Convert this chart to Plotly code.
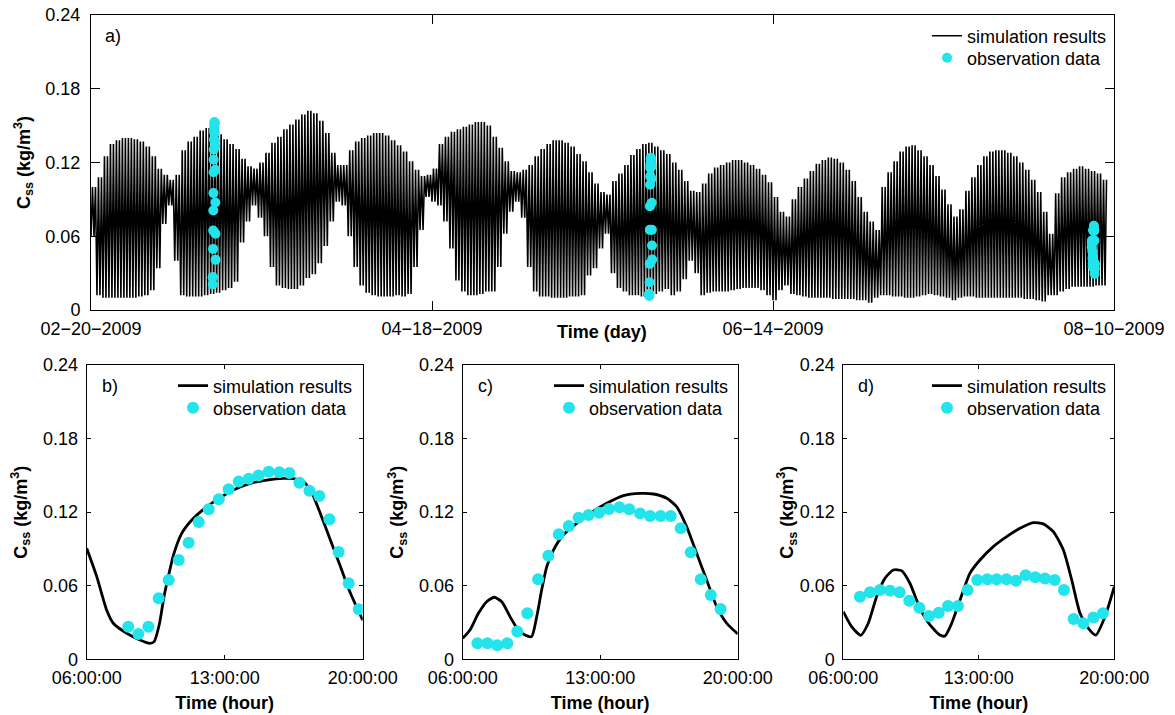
import pandas as pd
import plotly.graph_objects as go

# ---------------- data ----------------
start_date = "2009-02-20"
end_date = "2009-08-10"
a_tick_dates = ["2009-02-20", "2009-04-18", "2009-06-14", "2009-08-10"]
a_tick_text = ["02\u221220\u22122009", "04\u221218\u22122009", "06\u221214\u22122009", "08\u221210\u22122009"]

# panel a: daily upper / lower envelope of the simulated tidal concentration (kg/m3)
sim_a_upper = [
    0.100, 0.108, 0.125, 0.135, 0.138, 0.140, 0.140, 0.139, 0.137, 0.133,
    0.125, 0.115, 0.110, 0.106, 0.110, 0.130, 0.137, 0.141, 0.146, 0.148,
    0.146, 0.143, 0.139, 0.135, 0.131, 0.123, 0.117, 0.115, 0.120, 0.128,
    0.136, 0.141, 0.147, 0.151, 0.155, 0.159, 0.162, 0.160, 0.154, 0.144,
    0.128, 0.118, 0.118, 0.130, 0.137, 0.140, 0.142, 0.144, 0.144, 0.142,
    0.138, 0.134, 0.129, 0.121, 0.114, 0.109, 0.110, 0.115, 0.135, 0.141,
    0.145, 0.147, 0.149, 0.151, 0.153, 0.153, 0.150, 0.141, 0.132, 0.121,
    0.113, 0.112, 0.114, 0.118, 0.125, 0.131, 0.135, 0.138, 0.138, 0.136,
    0.133, 0.127, 0.121, 0.112, 0.103, 0.096, 0.094, 0.105, 0.111, 0.118,
    0.126, 0.131, 0.135, 0.136, 0.133, 0.130, 0.127, 0.120, 0.114, 0.105,
    0.097, 0.096, 0.103, 0.111, 0.116, 0.118, 0.120, 0.122, 0.122, 0.120,
    0.118, 0.115, 0.110, 0.104, 0.092, 0.080, 0.076, 0.090, 0.100, 0.107,
    0.113, 0.119, 0.122, 0.124, 0.123, 0.120, 0.114, 0.105, 0.092, 0.080,
    0.072, 0.065, 0.100, 0.112, 0.121, 0.129, 0.133, 0.134, 0.130, 0.125,
    0.118, 0.109, 0.098, 0.086, 0.076, 0.082, 0.097, 0.108, 0.118, 0.125,
    0.129, 0.130, 0.130, 0.128, 0.125, 0.120, 0.114, 0.106, 0.096, 0.080,
    0.062, 0.095, 0.108, 0.112, 0.115, 0.117, 0.115, 0.113, 0.111, 0.106,
]
sim_a_lower = [
    0.060, 0.012, 0.010, 0.010, 0.010, 0.010, 0.010, 0.010, 0.011, 0.012,
    0.016, 0.034, 0.070, 0.085, 0.040, 0.012, 0.011, 0.011, 0.011, 0.012,
    0.013, 0.014, 0.016, 0.018, 0.023, 0.055, 0.072, 0.085, 0.075, 0.060,
    0.035, 0.020, 0.018, 0.017, 0.017, 0.020, 0.026, 0.029, 0.038, 0.052,
    0.072, 0.088, 0.085, 0.060, 0.035, 0.020, 0.014, 0.012, 0.011, 0.011,
    0.011, 0.012, 0.011, 0.013, 0.035, 0.065, 0.092, 0.088, 0.085, 0.072,
    0.050, 0.024, 0.015, 0.012, 0.012, 0.013, 0.015, 0.015, 0.035, 0.062,
    0.080, 0.088, 0.075, 0.035, 0.015, 0.011, 0.011, 0.010, 0.010, 0.010,
    0.011, 0.011, 0.012, 0.028, 0.034, 0.050, 0.062, 0.030, 0.018, 0.015,
    0.012, 0.012, 0.011, 0.012, 0.013, 0.015, 0.017, 0.012, 0.015, 0.025,
    0.040, 0.030, 0.012, 0.014, 0.015, 0.015, 0.015, 0.016, 0.017, 0.018,
    0.018, 0.018, 0.016, 0.012, 0.008, 0.016, 0.020, 0.013, 0.012, 0.011,
    0.010, 0.010, 0.010, 0.010, 0.009, 0.009, 0.009, 0.009, 0.008, 0.008,
    0.006, 0.010, 0.012, 0.012, 0.011, 0.011, 0.010, 0.010, 0.011, 0.012,
    0.013, 0.012, 0.011, 0.010, 0.008, 0.010, 0.011, 0.011, 0.010, 0.010,
    0.010, 0.010, 0.010, 0.010, 0.010, 0.010, 0.009, 0.009, 0.008, 0.007,
    0.012, 0.012, 0.015, 0.017, 0.019, 0.019, 0.019, 0.019, 0.020, 0.020,
]

# panels b, c, d: survey days and hourly series
date_b = "2009-03-12"
date_c = "2009-05-24"
date_d = "2009-08-06"

sim_b_hour = [6.0, 6.51, 7.01, 7.35, 8.03, 8.7, 9.21, 9.42, 9.69, 9.92, 10.14, 10.4, 10.82, 11.33,
              11.92, 12.6, 13.44, 14.29, 15.13, 15.98, 16.49, 17.0, 17.43, 17.85, 18.36, 18.87, 19.38, 20.0]
sim_b_val = [0.0905, 0.0674, 0.0402, 0.0294, 0.0212, 0.0158, 0.013, 0.0144, 0.029, 0.0511, 0.0674, 0.085,
             0.1027, 0.1136, 0.1223, 0.13, 0.138, 0.1435, 0.1462, 0.1476, 0.1473, 0.1449, 0.1354, 0.119,
             0.0973, 0.0756, 0.0538, 0.032]
obs_b_hour = [8.11, 8.62, 9.13, 9.65, 10.16, 10.67, 11.17, 11.68, 12.19, 12.70, 13.20, 13.71, 14.22, 14.72,
              15.23, 15.77, 16.28, 16.79, 17.30, 17.80, 18.31, 18.78, 19.29, 19.80]
obs_b_val = [0.0266, 0.0207, 0.0266, 0.0497, 0.0647, 0.081, 0.0951, 0.112, 0.1223, 0.1305, 0.1386, 0.1449,
             0.1473, 0.1498, 0.153, 0.1525, 0.152, 0.144, 0.1375, 0.1332, 0.1142, 0.0875, 0.062, 0.0408]

sim_c_hour = [6.0, 6.37, 6.8, 7.22, 7.6, 7.99, 8.41, 8.83, 9.17, 9.51, 9.77, 10.02, 10.28, 10.62, 11.12, 11.8,
              12.48, 13.33, 14.18, 15.03, 15.71, 16.39, 16.89, 17.4, 17.91, 18.42, 18.93, 19.44, 20.0]
sim_c_val = [0.0171, 0.0239, 0.0375, 0.047, 0.0506, 0.047, 0.0348, 0.0239, 0.0198, 0.0185, 0.0348, 0.0565,
             0.0756, 0.0891, 0.1014, 0.1109, 0.119, 0.1272, 0.1335, 0.1353, 0.1348, 0.1313, 0.1245, 0.1082,
             0.0864, 0.0647, 0.0429, 0.0294, 0.0207]
obs_c_hour = [6.75, 7.26, 7.76, 8.27, 8.78, 9.29, 9.84, 10.36, 10.89, 11.40, 11.90, 12.41, 12.94, 13.45,
              13.98, 14.48, 15.03, 15.54, 16.08, 16.59, 17.10, 17.61, 18.12, 18.63, 19.13]
obs_c_val = [0.013, 0.013, 0.0114, 0.013, 0.0226, 0.0375, 0.0652, 0.0845, 0.1019, 0.1087, 0.1155, 0.1177,
             0.1196, 0.1226, 0.1239, 0.1223, 0.119, 0.1169, 0.1169, 0.1169, 0.1068, 0.0872, 0.0652, 0.0525,
             0.041]

sim_d_hour = [6.0, 6.43, 6.9, 7.29, 7.72, 8.15, 8.58, 9.01, 9.44, 9.96, 10.48, 10.99, 11.25, 11.6, 12.03,
              12.54, 13.06, 13.75, 14.44, 15.13, 15.82, 16.33, 16.85, 17.37, 17.8, 18.23, 18.66, 19.05,
              19.52, 20.0]
sim_d_val = [0.0389, 0.0266, 0.0196, 0.0294, 0.0511, 0.066, 0.0728, 0.0723, 0.062, 0.0416, 0.028, 0.0198,
             0.019, 0.0294, 0.0484, 0.0701, 0.081, 0.0919, 0.1, 0.1068, 0.1114, 0.1104, 0.1041, 0.0891,
             0.0647, 0.0375, 0.0253, 0.0198, 0.0348, 0.0592]
obs_d_hour = [6.86, 7.38, 7.89, 8.41, 8.91, 9.41, 9.93, 10.43, 10.93, 11.41, 11.92, 12.42, 12.92, 13.44,
              13.92, 14.42, 14.92, 15.42, 15.92, 16.42, 16.92, 17.40, 17.90, 18.40, 18.92, 19.41]
obs_d_val = [0.0511, 0.0546, 0.0565, 0.056, 0.0546, 0.0478, 0.0421, 0.0353, 0.038, 0.0435, 0.0435, 0.0565,
             0.0647, 0.0652, 0.0652, 0.0652, 0.0641, 0.0685, 0.0669, 0.0658, 0.0647, 0.0565, 0.0329, 0.0294,
             0.034, 0.0375]

y_ticks = [0, 0.06, 0.12, 0.18, 0.24]
y_tick_text = ["0", "0.06", "0.12", "0.18", "0.24"]
hour_ticks = [6, 13, 20]
hour_tick_text = ["06:00:00", "13:00:00", "20:00:00"]

# ---------------- helpers ----------------
def stamp(day, hours):
    base = pd.Timestamp(day)
    return [base + pd.Timedelta(hours=h) for h in hours]

# panel a series: two tidal cycles per day between the daily low and high envelope
t0 = pd.Timestamp(start_date)
sim_a_t, sim_a_v = [], []
for d, (hi, lo) in enumerate(zip(sim_a_upper, sim_a_lower)):
    for frac, v in ((0.0, lo), (0.25, hi), (0.5, lo), (0.75, hi)):
        sim_a_t.append(t0 + pd.Timedelta(days=d + frac))
        sim_a_v.append(v)

obs_a_t = stamp(date_b, obs_b_hour) + stamp(date_c, obs_c_hour) + stamp(date_d, obs_d_hour)
obs_a_v = obs_b_val + obs_c_val + obs_d_val

# the page body adds an 8 px margin, so the figure is drawn 8 px in from the window corner
OFF = 8
W, H = 1175 - OFF, 715 - OFF
FONT = "Liberation Sans, Arial, Helvetica, sans-serif"
CYAN = "#22E4EA"

def px_x(p):
    return (p - OFF) / W

def px_y(p):
    return 1 - (p - OFF) / H

fig = go.Figure()

# panel a
fig.add_trace(go.Scatter(x=sim_a_t, y=sim_a_v, mode="lines", line=dict(color="black", width=1.6),
                         name="simulation results", legend="legend", xaxis="x", yaxis="y"))
fig.add_trace(go.Scatter(x=obs_a_t, y=obs_a_v, mode="markers", marker=dict(color=CYAN, size=10),
                         name="observation data", legend="legend5", xaxis="x", yaxis="y"))

panels = [
    ("x2", "y2", "legend2", "legend6", date_b, sim_b_hour, sim_b_val, obs_b_hour, obs_b_val),
    ("x3", "y3", "legend3", "legend7", date_c, sim_c_hour, sim_c_val, obs_c_hour, obs_c_val),
    ("x4", "y4", "legend4", "legend8", date_d, sim_d_hour, sim_d_val, obs_d_hour, obs_d_val),
]
for xa, ya, lg1, lg2, day, sh, sv, oh, ov in panels:
    fig.add_trace(go.Scatter(x=stamp(day, sh), y=sv, mode="lines",
                             line=dict(color="black", width=2.8, shape="spline", smoothing=0.6),
                             name="simulation results", legend=lg1, xaxis=xa, yaxis=ya))
    fig.add_trace(go.Scatter(x=stamp(day, oh), y=ov, mode="markers", marker=dict(color=CYAN, size=12),
                             name="observation data", legend=lg2, xaxis=xa, yaxis=ya))

axis_common = dict(showline=True, linecolor="black", linewidth=1, mirror="ticks", ticks="inside",
                   tickcolor="black", showgrid=False, zeroline=False, automargin=False,
                   ticklabeloverflow="allow",
                   tickfont=dict(family=FONT, size=18, color="black"))

ytitle = "C<sub>ss</sub> (kg/m<sup>3</sup>)"
title_font = dict(family=FONT, size=18, color="black", weight="bold")

layout = dict(
    width=W, height=H, margin=dict(l=0, r=0, t=0, b=0, autoexpand=False),
    paper_bgcolor="white", plot_bgcolor="white",
    font=dict(family=FONT, size=18, color="black"),
    showlegend=True,
)

# panel a axes
layout["xaxis"] = dict(axis_common, domain=[px_x(91), px_x(1114)], anchor="y", type="date",
                       range=[start_date, end_date], tickvals=a_tick_dates, ticktext=a_tick_text,
                       ticklen=9, ticklabelstandoff=2)
layout["yaxis"] = dict(axis_common, domain=[px_y(310), px_y(15)], anchor="x", range=[0, 0.24],
                       tickvals=y_ticks, ticktext=y_tick_text, ticklen=9, ticklabelstandoff=6,
                       title=dict(text=ytitle, standoff=10, font=title_font))

sub_domains = [(86.7, 362.7, 12), (462.7, 737.7, 10), (843.3, 1114.3, 0)]
for (x0, x1, sto), (xa, ya, lg1, lg2, day, *_) in zip(sub_domains, panels):
    xk = "xaxis" + xa[1:]
    yk = "yaxis" + ya[1:]
    base = pd.Timestamp(day)
    layout[xk] = dict(axis_common, domain=[px_x(x0), px_x(x1)], anchor=ya, type="date",
                      range=[base + pd.Timedelta(hours=6), base + pd.Timedelta(hours=20)],
                      tickvals=[base + pd.Timedelta(hours=h) for h in hour_ticks], ticktext=hour_tick_text,
                      ticklen=4, ticklabelstandoff=2,
                      title=dict(text="Time (hour)", standoff=9, font=title_font))
    layout[yk] = dict(axis_common, domain=[px_y(659.3), px_y(365)], anchor=xa, range=[0, 0.24],
                      tickvals=y_ticks, ticktext=y_tick_text, ticklen=4, ticklabelstandoff=4,
                      title=dict(text=ytitle, standoff=sto, font=title_font))

legend_common = dict(xanchor="left", yanchor="middle", bgcolor="rgba(0,0,0,0)", borderwidth=0,
                     font=dict(family=FONT, size=18, color="black"), itemwidth=30)
legend_rows = {
    "legend": (927, 36), "legend5": (927, 58),
    "legend2": (173, 386), "legend6": (173, 408),
    "legend3": (549, 386), "legend7": (549, 408),
    "legend4": (927, 386), "legend8": (927, 408),
}
for key, (lx, ly) in legend_rows.items():
    layout[key] = dict(legend_common, x=px_x(lx), y=px_y(ly))

annotations = [
    dict(text="a)", x=px_x(103), y=px_y(36)),
    dict(text="b)", x=px_x(100), y=px_y(386)),
    dict(text="c)", x=px_x(476), y=px_y(386)),
    dict(text="d)", x=px_x(856), y=px_y(386)),
    dict(text="Time (day)", x=px_x(602), y=px_y(332), xanchor="center", weight="bold"),
]
layout["annotations"] = [dict(xref="paper", yref="paper", showarrow=False, text=a["text"], x=a["x"], y=a["y"],
                              xanchor=a.get("xanchor", "left"), yanchor="middle",
                              font=dict(family=FONT, size=18, color="black", weight=a.get("weight", "normal")))
                         for a in annotations]

fig.update_layout(**layout)
fig.write_html("out.html")
